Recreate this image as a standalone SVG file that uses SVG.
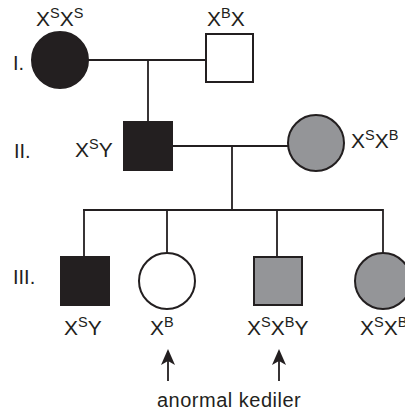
<svg xmlns="http://www.w3.org/2000/svg" width="405" height="417" viewBox="0 0 405 417">
<defs>
<style>
.t{font-family:"Liberation Sans",Arial,Helvetica,sans-serif;font-size:20px;fill:#231f20}
.g{font-size:21px}
.s{font-size:14.5px}
.ln{stroke:#231f20;stroke-width:1.8;fill:none}
.blk{fill:#231f20;stroke:#231f20;stroke-width:2}
.gry{fill:#949598;stroke:#231f20;stroke-width:2}
.wht{fill:#ffffff;stroke:#231f20;stroke-width:2}
</style>
<marker id="ah" viewBox="0 0 16 14" refX="14" refY="7" markerWidth="16" markerHeight="14" markerUnits="userSpaceOnUse" orient="auto">
<path d="M0,0 L16,7 L0,14 L4,7 Z" fill="#231f20"/>
</marker>
</defs>
<rect width="405" height="417" fill="#ffffff"/>
<g id="connectors">
<line class="ln" x1="88" y1="60" x2="206" y2="60"/>
<line class="ln" x1="148" y1="60" x2="148" y2="122"/>
<line class="ln" x1="172" y1="146" x2="289" y2="146"/>
<line class="ln" x1="232" y1="146" x2="232" y2="210"/>
<line class="ln" x1="83" y1="210" x2="383" y2="210"/>
<line class="ln" x1="84" y1="209" x2="84" y2="257"/>
<line class="ln" x1="167" y1="209" x2="167" y2="253"/>
<line class="ln" x1="277" y1="209" x2="277" y2="257"/>
<line class="ln" x1="383" y1="209" x2="383" y2="253"/>
<line class="ln" x1="168" y1="381" x2="168" y2="351" marker-end="url(#ah)"/>
<line class="ln" x1="279" y1="381" x2="279" y2="351" marker-end="url(#ah)"/>
</g>
<g id="gen-labels">
<text class="t" x="13" y="70">I.</text>
<text class="t" x="14" y="158">II.</text>
<text class="t" x="13" y="284">III.</text>
</g>
<g id="I-1">
<circle class="blk" cx="60" cy="60" r="28"/>
<text class="t g" x="36" y="26">X<tspan class="s" dy="-8">S</tspan><tspan dy="8">X</tspan><tspan class="s" dy="-8">S</tspan></text>
</g>
<g id="I-2">
<rect class="wht" x="206" y="34" width="47" height="48"/>
<text class="t g" x="207" y="26">X<tspan class="s" dy="-8">B</tspan><tspan dy="8">X</tspan></text>
</g>
<g id="II-1">
<rect class="blk" x="124" y="122" width="48" height="48"/>
<text class="t g" x="75" y="157">X<tspan class="s" dy="-8">S</tspan><tspan dy="8">Y</tspan></text>
</g>
<g id="II-2">
<circle class="gry" cx="316" cy="143" r="28"/>
<text class="t g" x="351" y="148">X<tspan class="s" dy="-8">S</tspan><tspan dy="8">X</tspan><tspan class="s" dy="-8">B</tspan></text>
</g>
<g id="III-1">
<rect class="blk" x="61" y="257" width="48" height="48"/>
<text class="t g" x="64" y="335">X<tspan class="s" dy="-8">S</tspan><tspan dy="8">Y</tspan></text>
</g>
<g id="III-2">
<circle class="wht" cx="167" cy="281" r="28"/>
<text class="t g" x="150" y="335">X<tspan class="s" dy="-8">B</tspan></text>
</g>
<g id="III-3">
<rect class="gry" x="254" y="257" width="48" height="48"/>
<text class="t g" x="247" y="335">X<tspan class="s" dy="-8">S</tspan><tspan dy="8">X</tspan><tspan class="s" dy="-8">B</tspan><tspan dy="8">Y</tspan></text>
</g>
<g id="III-4">
<circle class="gry" cx="383" cy="281" r="28"/>
<text class="t g" x="360" y="335">X<tspan class="s" dy="-8">S</tspan><tspan dy="8">X</tspan><tspan class="s" dy="-8">B</tspan></text>
</g>
<g id="caption">
<text class="t" x="157" y="407" style="letter-spacing:0.5px">anormal kediler</text>
</g>
</svg>
